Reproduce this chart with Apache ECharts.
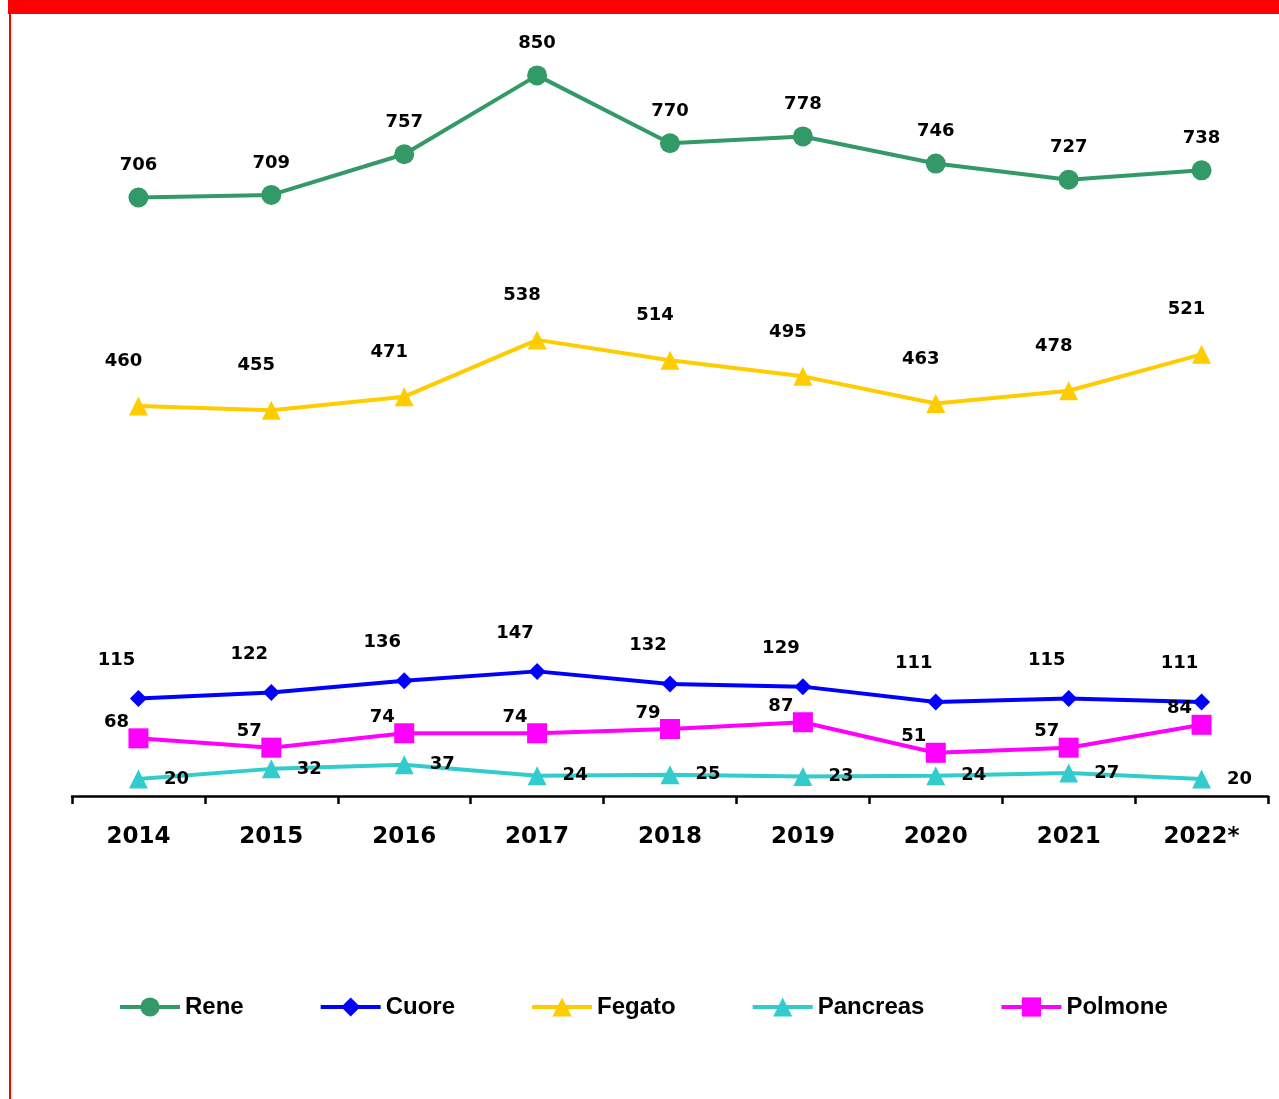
<!DOCTYPE html>
<html>
<head>
<meta charset="utf-8">
<script src="https://cdn.jsdelivr.net/npm/echarts@6/dist/echarts.min.js"></script>
<style>
html,body{margin:0;padding:0;background:#fff;}
#chart{width:1279px;height:1099px;}
</style>
</head>
<body>
<div id="chart"></div>
<script>
var years = ['2014','2015','2016','2017','2018','2019','2020','2021','2022*'];
var rene = [706,709,757,850,770,778,746,727,738];
var cuore = [115,122,136,147,132,129,111,115,111];
var fegato = [460,455,471,538,514,495,463,478,521];
var pancreas = [20,32,37,24,25,23,24,27,20];
var polmone = [68,57,74,74,79,87,51,57,84];

var chart = echarts.init(document.getElementById('chart'));
var lblFont = {fontFamily:'DejaVu Sans', fontWeight:'bold', fontSize:18, color:'#000'};
function lbl(extra){ return Object.assign({show:true}, lblFont, extra); }

chart.setOption({
  animation:false,
  backgroundColor:'#fff',
  graphic:[
    {type:'rect', shape:{x:8,y:0,width:1271,height:14}, style:{fill:'#ff0000'}},
    {type:'rect', shape:{x:9,y:0,width:2,height:1099}, style:{fill:'#ff0000'}}
  ],
  grid:{left:72, right:11, top:33, bottom:303},
  legend:{
    top:990, left:113, itemWidth:60, itemHeight:24, itemGap:75,
    lineStyle:{width:4},
    textStyle:{fontFamily:'Liberation Sans', fontWeight:'bold', fontSize:24, color:'#000'},
    data:['Rene','Cuore','Fegato','Pancreas','Polmone']
  },
  xAxis:{
    type:'category', data:years, boundaryGap:true,
    axisLine:{lineStyle:{color:'#000', width:2.5}},
    axisTick:{show:true, length:8, lineStyle:{color:'#000', width:2.5}},
    axisLabel:{margin:30, fontFamily:'DejaVu Sans', fontWeight:'bold', fontSize:23, color:'#000'}
  },
  yAxis:{type:'value', min:0, max:900, show:false, splitLine:{show:false}},
  series:[
    {name:'Rene', type:'line', data:rene, symbol:'circle', symbolSize:20,
     lineStyle:{width:4, color:'#339966'}, itemStyle:{color:'#339966'},
     label:lbl({position:'top', distance:13})},
    {name:'Cuore', type:'line', data:cuore, symbol:'diamond', symbolSize:17,
     lineStyle:{width:4, color:'#0000ff'}, itemStyle:{color:'#0000ff'},
     label:lbl({position:'top', distance:21, offset:[-22,0]})},
    {name:'Fegato', type:'line', data:fegato, symbol:'triangle', symbolSize:19,
     lineStyle:{width:4, color:'#ffcc00'}, itemStyle:{color:'#ffcc00'},
     label:lbl({position:'top', distance:26, offset:[-15,0]})},
    {name:'Pancreas', type:'line', data:pancreas, symbol:'triangle', symbolSize:19,
     lineStyle:{width:4, color:'#33cccc'}, itemStyle:{color:'#33cccc'},
     label:lbl({position:'right', distance:16})},
    {name:'Polmone', type:'line', data:polmone, symbol:'rect', symbolSize:20,
     lineStyle:{width:4, color:'#ff00ff'}, itemStyle:{color:'#ff00ff'},
     label:lbl({position:'top', distance:6, offset:[-22,9]})}
  ]
});
</script>
</body>
</html>
